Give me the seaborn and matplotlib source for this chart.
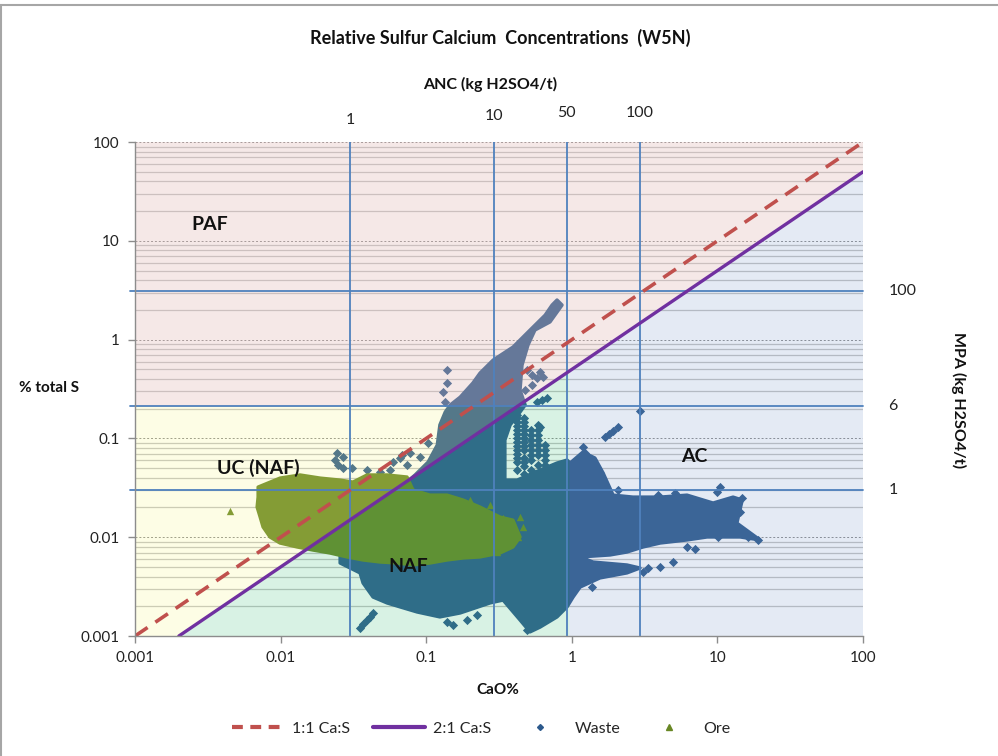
import numpy as np
import pandas as pd
import matplotlib
matplotlib.use("Agg")
import matplotlib.pyplot as plt
import matplotlib.transforms as mtransforms
from matplotlib.lines import Line2D
from matplotlib.ticker import FixedLocator, NullFormatter, LogLocator
import seaborn as sns

# ---------------- data ----------------
# ratio lines  (CaO %, S %)
line11_x = [0.001, 100.0]
line11_y = [0.001, 100.0]
line21_x = [0.002, 100.0]
line21_y = [0.001, 50.0]

# ANC reference lines (CaO %) and labels
anc_x = [0.030, 0.29, 0.925, 2.94]
anc_labels = ["1", "10", "50", "100"]
# MPA reference lines (% S) and labels
mpa_y = [3.1, 0.215, 0.030]
mpa_labels = ["100", "6", "1"]

# classification region limits
paf_s_limit = 0.215
ac_cao_limit = 0.96

# Waste: outline of the dense body of points (CaO %, S %)
waste_blob_x = [0.791, 0.857, 0.708, 0.558, 0.500, 0.455, 0.441, 0.478, 0.441, 0.377,
                0.347, 0.347, 0.421, 0.605, 0.791, 0.927, 0.973, 1.19, 1.44, 1.64,
                1.92, 2.63, 4.04, 6.18, 9.33, 12.8, 14.8, 13.6, 19.6, 14.3,
                8.49, 6.18, 4.04, 3.08, 2.39, 1.83, 1.14, 1.40, 2.39, 2.94,
                2.39, 1.56, 1.14, 1.02, 0.927, 0.791, 0.605, 0.516, 0.441, 0.337,
                0.274, 0.171, 0.124, 0.0865, 0.0661, 0.0538, 0.0431, 0.0368, 0.0351, 0.0256,
                0.0256, 0.0482, 0.0838, 0.103, 0.119, 0.124, 0.135, 0.146, 0.171, 0.209,
                0.234, 0.288, 0.394, 0.516, 0.655, 0.731]
waste_blob_y = [2.52, 2.24, 1.51, 1.25, 0.881, 0.553, 0.309, 0.218, 0.185, 0.137,
                0.0964, 0.0379, 0.0379, 0.0479, 0.0564, 0.0604, 0.0564, 0.0728, 0.0634, 0.0447,
                0.0267, 0.0255, 0.0255, 0.0267, 0.0222, 0.0255, 0.0238, 0.0139, 0.00938, 0.01005,
                0.01005, 0.00938, 0.00873, 0.00796, 0.00708, 0.00661, 0.00631, 0.00561, 0.00524, 0.00488,
                0.00435, 0.00387, 0.00313, 0.00248, 0.00197, 0.00156, 0.00123, 0.00110, 0.00145, 0.00231,
                0.00216, 0.00171, 0.00156, 0.00175, 0.00197, 0.00216, 0.00248, 0.00344, 0.00435, 0.00548,
                0.00834, 0.0212, 0.0427, 0.0577, 0.0857, 0.137, 0.185, 0.218, 0.262, 0.364,
                0.459, 0.622, 0.841, 1.25, 1.77, 2.24]

# Waste: individual points outside the dense body
waste_x = [0.492, 0.533, 0.605, 0.577, 0.634, 0.533, 0.478, 0.577, 0.676, 0.624, 0.605,
           0.139, 0.139, 0.130, 0.135,
           0.0683, 0.0775, 0.0906, 0.103,
           0.0244, 0.0269, 0.0237, 0.0248, 0.0269, 0.0309, 0.0592, 0.0661, 0.0738, 0.0564, 0.0482, 0.0392,
           0.421, 0.421, 0.421, 0.421, 0.421, 0.421, 0.421, 0.421, 0.421, 0.421, 0.421, 0.421, 0.421, 0.421,
           0.470, 0.470, 0.470, 0.470, 0.470, 0.470, 0.470, 0.470, 0.470, 0.470, 0.470, 0.470, 0.470,
           0.525, 0.525, 0.525, 0.525, 0.525, 0.525, 0.525, 0.525,
           0.586, 0.586, 0.586, 0.586, 0.586, 0.586, 0.586, 0.586,
           0.655, 0.655, 0.655, 0.655, 0.655,
           0.0392, 0.0411, 0.0431, 0.0368, 0.0351, 0.139, 0.153, 0.190, 0.223, 0.492,
           2.94, 1.69, 1.80, 1.92, 2.07,
           1.23, 1.40, 1.56, 2.07, 3.91, 5.12, 9.93, 10.4, 14.8, 14.3, 16.2, 19.0, 12.8, 10.1,
           6.18, 7.02, 4.95, 4.04, 3.34, 3.08, 1.38, 1.19]
waste_y = [0.492, 0.438, 0.470, 0.408, 0.418, 0.347, 0.309, 0.233, 0.256, 0.245, 0.130,
           0.492, 0.364, 0.295, 0.233,
           0.0679, 0.0711, 0.0649, 0.0898,
           0.0711, 0.0649, 0.0604, 0.0538, 0.0501, 0.0501, 0.0577, 0.0634, 0.0538, 0.0479, 0.0457, 0.0479,
           0.173, 0.160, 0.147, 0.134, 0.122, 0.111, 0.101, 0.0920, 0.0838, 0.0764, 0.0695, 0.0634, 0.0577, 0.0479,
           0.161, 0.147, 0.134, 0.122, 0.111, 0.101, 0.0920, 0.0838, 0.0764, 0.0634, 0.0577, 0.0526, 0.0437,
           0.122, 0.108, 0.0964, 0.0857, 0.0764, 0.0679, 0.0604, 0.0479,
           0.137, 0.122, 0.108, 0.0964, 0.0857, 0.0764, 0.0679, 0.0538,
           0.0857, 0.0764, 0.0679, 0.0604, 0.0538,
           0.00145, 0.00156, 0.00171, 0.00132, 0.00121, 0.00139, 0.00129, 0.00145, 0.00163, 0.00115,
           0.189, 0.103, 0.111, 0.119, 0.130,
           0.0711, 0.0604, 0.0447, 0.0301, 0.0267, 0.0280, 0.0286, 0.0322, 0.0249, 0.0180, 0.01005, 0.00938, 0.0110, 0.01005,
           0.00796, 0.00760, 0.00561, 0.00499, 0.00488, 0.00445, 0.00313, 0.0818]

# Ore: outline of the dense body of points
ore_blob_x = [0.0070, 0.0099, 0.0136, 0.0187, 0.0256, 0.0314, 0.0392, 0.0538, 0.0738, 0.0811,
              0.106, 0.139, 0.179, 0.234, 0.321, 0.394, 0.441, 0.394, 0.321, 0.234,
              0.179, 0.139, 0.106, 0.0811, 0.0630, 0.0482, 0.0368, 0.0286, 0.0218, 0.0167,
              0.0130, 0.0099, 0.00845, 0.00757, 0.00723, 0.00689, 0.0070]
ore_blob_y = [0.0322, 0.0397, 0.0427, 0.0397, 0.0379, 0.0362, 0.0427, 0.0427, 0.0407, 0.0301,
              0.0267, 0.0267, 0.0238, 0.0202, 0.0160, 0.0149, 0.01005, 0.00796, 0.00692, 0.00631,
              0.00616, 0.00588, 0.00548, 0.00524, 0.00548, 0.00561, 0.00588, 0.00631, 0.00692, 0.00741,
              0.00796, 0.00873, 0.01005, 0.0127, 0.0160, 0.0202, 0.0255]
# Ore: individual points
ore_x = [0.00449, 0.462, 0.427, 0.337, 0.274, 0.441, 0.347, 0.306, 0.200]
ore_y = [0.0184, 0.0127, 0.01005, 0.0156, 0.0212, 0.0160, 0.0149, 0.00708, 0.0238]

# ---------------- styling ----------------
WASTE = "#2C598C"
ORE = "#688724"
BLUE_LINE = "#4F81BD"

sns.set_theme(style="white")
plt.rcParams['font.family'] = ['Lato', 'DejaVu Sans']

fig = plt.figure(figsize=(9.98, 7.56), dpi=100)
ax = fig.add_axes([0.1353, 0.1587, 0.7295, 0.6534])
ax.set_xscale('log')
ax.set_yscale('log')
ax.set_xlim(0.001, 100)
ax.set_ylim(0.001, 100)
ax.set_facecolor('white')

# horizontal grid: minor solid, major dashed
ax.yaxis.set_minor_locator(LogLocator(base=10, subs=np.arange(2, 10)))
ax.yaxis.set_minor_formatter(NullFormatter())
ax.xaxis.set_minor_locator(FixedLocator([]))
ax.grid(True, which='minor', axis='y', color='#C3C3C3', lw=0.9, zorder=0)
ax.grid(True, which='major', axis='y', color='#8C8C8C', lw=0.7, ls=(0, (2, 2)), zorder=0)
ax.grid(False, axis='x')
ax.set_axisbelow(True)

# points
waste_df = pd.DataFrame({"CaO": waste_x, "S": waste_y})
ore_df = pd.DataFrame({"CaO": ore_x, "S": ore_y})
ax.fill(waste_blob_x, waste_blob_y, facecolor=WASTE, edgecolor=WASTE, lw=2.4,
        joinstyle='round', zorder=2)
sns.scatterplot(data=waste_df, x="CaO", y="S", ax=ax, marker='D', color=WASTE,
                s=22, linewidth=0, zorder=2.05, legend=False)
ax.fill(ore_blob_x, ore_blob_y, facecolor=ORE, edgecolor=ORE, lw=2.4,
        joinstyle='round', zorder=2.1)
sns.scatterplot(data=ore_df, x="CaO", y="S", ax=ax, marker='^', color=ORE,
                s=28, linewidth=0, zorder=2.15, legend=False)

# translucent classification regions drawn over the points
lo, hi = 1e-5, 1e3
paf = [(0.001, paf_s_limit), (2 * paf_s_limit, paf_s_limit), (100, 50), (100, hi), (0.001, hi)]
uc = [(0.0001, 0.00005), (2 * paf_s_limit, paf_s_limit), (0.0001, paf_s_limit)]
naf = [(0.0001, 0.00005), (ac_cao_limit, ac_cao_limit / 2), (ac_cao_limit, lo), (0.0001, lo)]
ac = [(ac_cao_limit, lo), (ac_cao_limit, ac_cao_limit / 2), (1000, 500), (1000, lo)]
for poly, col, a in [(paf, (224/255, 186/255, 183/255), 0.32),
                     (uc, (245/255, 245/255, 125/255), 0.2),
                     (naf, (60/255, 190/255, 120/255), 0.2),
                     (ac, (120/255, 150/255, 200/255), 0.2)]:
    xs, ys = zip(*poly)
    ax.fill(xs, ys, color=col, alpha=a, lw=0, zorder=3)

# reference lines
trans_h = mtransforms.blended_transform_factory(ax.transAxes, ax.transData)
for yv in mpa_y:
    ax.plot([-0.007, 1.0], [yv, yv], transform=trans_h, color=BLUE_LINE, lw=1.3,
            zorder=4, clip_on=False)
for xv in anc_x:
    ax.plot([xv, xv], [0.001, 100], color=BLUE_LINE, lw=1.3, zorder=4)

ax.plot(line11_x, line11_y, color='#C0504D', lw=2.6, ls=(0, (4.2, 2.6)), zorder=5)
ax.plot(line21_x, line21_y, color='#7030A0', lw=2.4, zorder=5)

# axes styling
for s in ['top', 'right']:
    ax.spines[s].set_visible(False)
for s in ['left', 'bottom']:
    ax.spines[s].set_color('#8C8C8C')
    ax.spines[s].set_linewidth(1.0)
    ax.spines[s].set_zorder(6)
ax.xaxis.set_major_locator(FixedLocator([0.001, 0.01, 0.1, 1, 10, 100]))
ax.yaxis.set_major_locator(FixedLocator([0.001, 0.01, 0.1, 1, 10, 100]))
tick_labels = ["0.001", "0.01", "0.1", "1", "10", "100"]
ax.set_xticklabels(tick_labels)
ax.set_yticklabels(tick_labels)
ax.tick_params(axis='both', which='major', direction='out', length=5, width=1,
               color='#8C8C8C', labelsize=11, labelcolor='#222222', pad=6,
               bottom=True, left=True)
ax.tick_params(axis='y', which='minor', length=0)
ax.set_xlabel("")
ax.set_ylabel("")

# secondary labels
trans_top = mtransforms.blended_transform_factory(ax.transData, ax.transAxes)
top_y = [1.045, 1.052, 1.058, 1.058]
for xv, lab, yy in zip(anc_x, anc_labels, top_y):
    ax.text(xv, yy, lab, transform=trans_top, ha='center', va='center',
            fontsize=11.5, color='#222222')
for yv, lab in zip(mpa_y, mpa_labels):
    ax.text(1.035, yv, lab, transform=trans_h, ha='left', va='center',
            fontsize=11.5, color='#222222')

ax.text(0.4876, 1.117, "ANC (kg H2SO4/t)", transform=ax.transAxes, ha='center',
        va='center', fontsize=11.5, fontweight='bold', color='#111111')
ax.text(1.1305, 0.478, "MPA (kg H2SO4/t)", transform=ax.transAxes, ha='center',
        va='center', fontsize=11.5, fontweight='bold', rotation=270, color='#111111')
ax.text(-0.118, 0.502, "% total S", transform=ax.transAxes, ha='center',
        va='center', fontsize=11, fontweight='bold', color='#111111')
ax.text(0.4986, -0.109, "CaO%", transform=ax.transAxes, ha='center',
        va='center', fontsize=11, fontweight='bold', color='#111111')

# region labels
for tx, ty, lab in [(0.103, 0.834, "PAF"), (0.169, 0.340, "UC (NAF)"),
                    (0.375, 0.140, "NAF"), (0.768, 0.364, "AC")]:
    ax.text(tx, ty, lab, transform=ax.transAxes, ha='center', va='center',
            fontsize=14, fontweight='bold', color='#111111', zorder=7)

fig.text(0.501, 0.9497, "Relative Sulfur Calcium  Concentrations  (W5N)", ha='center',
         va='center', fontsize=13, fontweight='bold', color='#111111')

# legend
handles = [
    Line2D([], [], color='#C0504D', lw=3, ls=(0, (2.6, 1.8))),
    Line2D([], [], color='#7030A0', lw=3),
    Line2D([], [], color=WASTE, marker='D', ls='none', markersize=3),
    Line2D([], [], color=ORE, marker='^', ls='none', markersize=4),
]
fig.legend(handles, ["1:1 Ca:S", "2:1 Ca:S", "Waste", "Ore"], loc='center',
           bbox_to_anchor=(0.482, 0.036), ncol=4, frameon=False, fontsize=11.5,
           handlelength=3.3, columnspacing=1.4, handletextpad=0.5)

# chart border (top and left)
fig.add_artist(Line2D([0, 1], [1 - 5 / 756, 1 - 5 / 756], transform=fig.transFigure,
                      color='#A6A6A6', lw=1.5))
fig.add_artist(Line2D([0.5 / 998, 0.5 / 998], [0, 1 - 5 / 756], transform=fig.transFigure,
                      color='#A6A6A6', lw=1.5))

fig.savefig("out.png", dpi=100)
